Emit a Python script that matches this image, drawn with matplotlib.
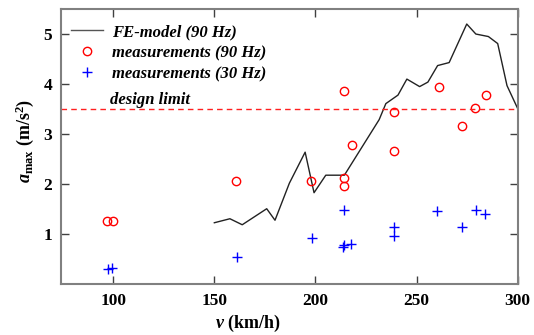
import matplotlib
matplotlib.use("Agg")
import matplotlib.pyplot as plt

# FE-model (90 Hz)
fe_v = [150, 157.7, 163.8, 175.9, 180, 187.1, 194.9, 199.3, 205.1, 214.3,
        231.5, 234.8, 240.8, 245.2, 251.5, 255.6, 260.4, 266.1, 274.8, 279.3,
        285.5, 290.1, 294.7, 300]
fe_a = [1.23, 1.31, 1.19, 1.51, 1.28, 2.02, 2.64, 1.83, 2.18, 2.18,
        3.29, 3.61, 3.78, 4.10, 3.95, 4.04, 4.37, 4.43, 5.20, 5.00,
        4.95, 4.81, 3.97, 3.51]

# measurements (90 Hz)
m90_v = [97, 100, 160.7, 197.8, 214.2, 214.2, 214.2, 218, 238.9, 238.9,
         261.2, 272.4, 279, 284.5]
m90_a = [1.27, 1.27, 2.06, 2.06, 3.87, 2.12, 1.97, 2.79, 3.45, 2.66,
         3.95, 3.17, 3.52, 3.78]

# measurements (30 Hz)
m30_v = [97.5, 99.5, 161.3, 198.2, 214.2, 214.2, 213.8, 217.5, 238.6, 238.6,
         260, 272.7, 279.3, 283.6]
m30_a = [0.30, 0.33, 0.54, 0.92, 1.49, 0.78, 0.75, 0.80, 1.15, 0.97,
         1.47, 1.14, 1.48, 1.41]

design_limit = 3.5

xticks = [100, 150, 200, 250, 300]
yticks = [1, 2, 3, 4, 5]

plt.rcParams['font.family'] = ['Liberation Serif', 'DejaVu Serif']
plt.rcParams['mathtext.fontset'] = 'custom'
plt.rcParams['mathtext.rm'] = 'Liberation Serif:bold'
plt.rcParams['mathtext.it'] = 'Liberation Serif:italic:bold'
plt.rcParams['mathtext.bf'] = 'Liberation Serif:bold'

fig = plt.figure(figsize=(5.34, 3.35), dpi=100)
ax = fig.add_axes([0.1135, 0.1513, 0.856, 0.8218])

ax.plot(fe_v, fe_a, color='#222222', lw=1.0, label='FE-model (90 Hz)')
ax.plot(m90_v, m90_a, ls='none', marker='o', ms=6, mfc='none', mec='red',
        mew=1.0, label='measurements (90 Hz)')
ax.plot(m30_v, m30_a, ls='none', marker='+', ms=7, color='blue', mew=1.0,
        label='measurements (30 Hz)')
ax.axhline(design_limit, color='#ff2020', ls=(0, (4, 3)), lw=1.0)

ax.set_xlim(74, 300)
ax.set_ylim(0, 5.5)
ax.set_xticks(xticks)
ax.set_yticks(yticks)

for s in ax.spines.values():
    s.set_color('#808080')
    s.set_linewidth(1.5)
ax.tick_params(direction='in', length=6, width=1.0, color='#404040',
               top=True, right=True, labelsize=12.5, pad=6)
for lab in ax.get_xticklabels() + ax.get_yticklabels():
    lab.set_fontweight('bold')

ax.set_xlabel(r'$v$ (km/h)', fontsize=13, fontweight='bold')
ax.xaxis.set_label_coords(0.41, -0.105)
ax.set_ylabel(r'$a_{\mathrm{max}}$ (m/s$^{2}$)', fontsize=13, fontweight='bold')
ax.yaxis.set_label_coords(-0.053, 0.52)

leg = ax.legend(loc='upper left', bbox_to_anchor=(0.0, 0.985), frameon=False,
                prop={'style': 'italic', 'weight': 'bold', 'size': 12},
                handlelength=1.9, handletextpad=0.55, labelspacing=0.3,
                borderaxespad=0.3, borderpad=0.35)
leg.get_lines()[0].set_color('#555555')

ax.text(98.3, 3.69, 'design limit', fontsize=12, style='italic',
        fontweight='bold', va='center', ha='left')

fig.savefig('out.png', dpi=100)
